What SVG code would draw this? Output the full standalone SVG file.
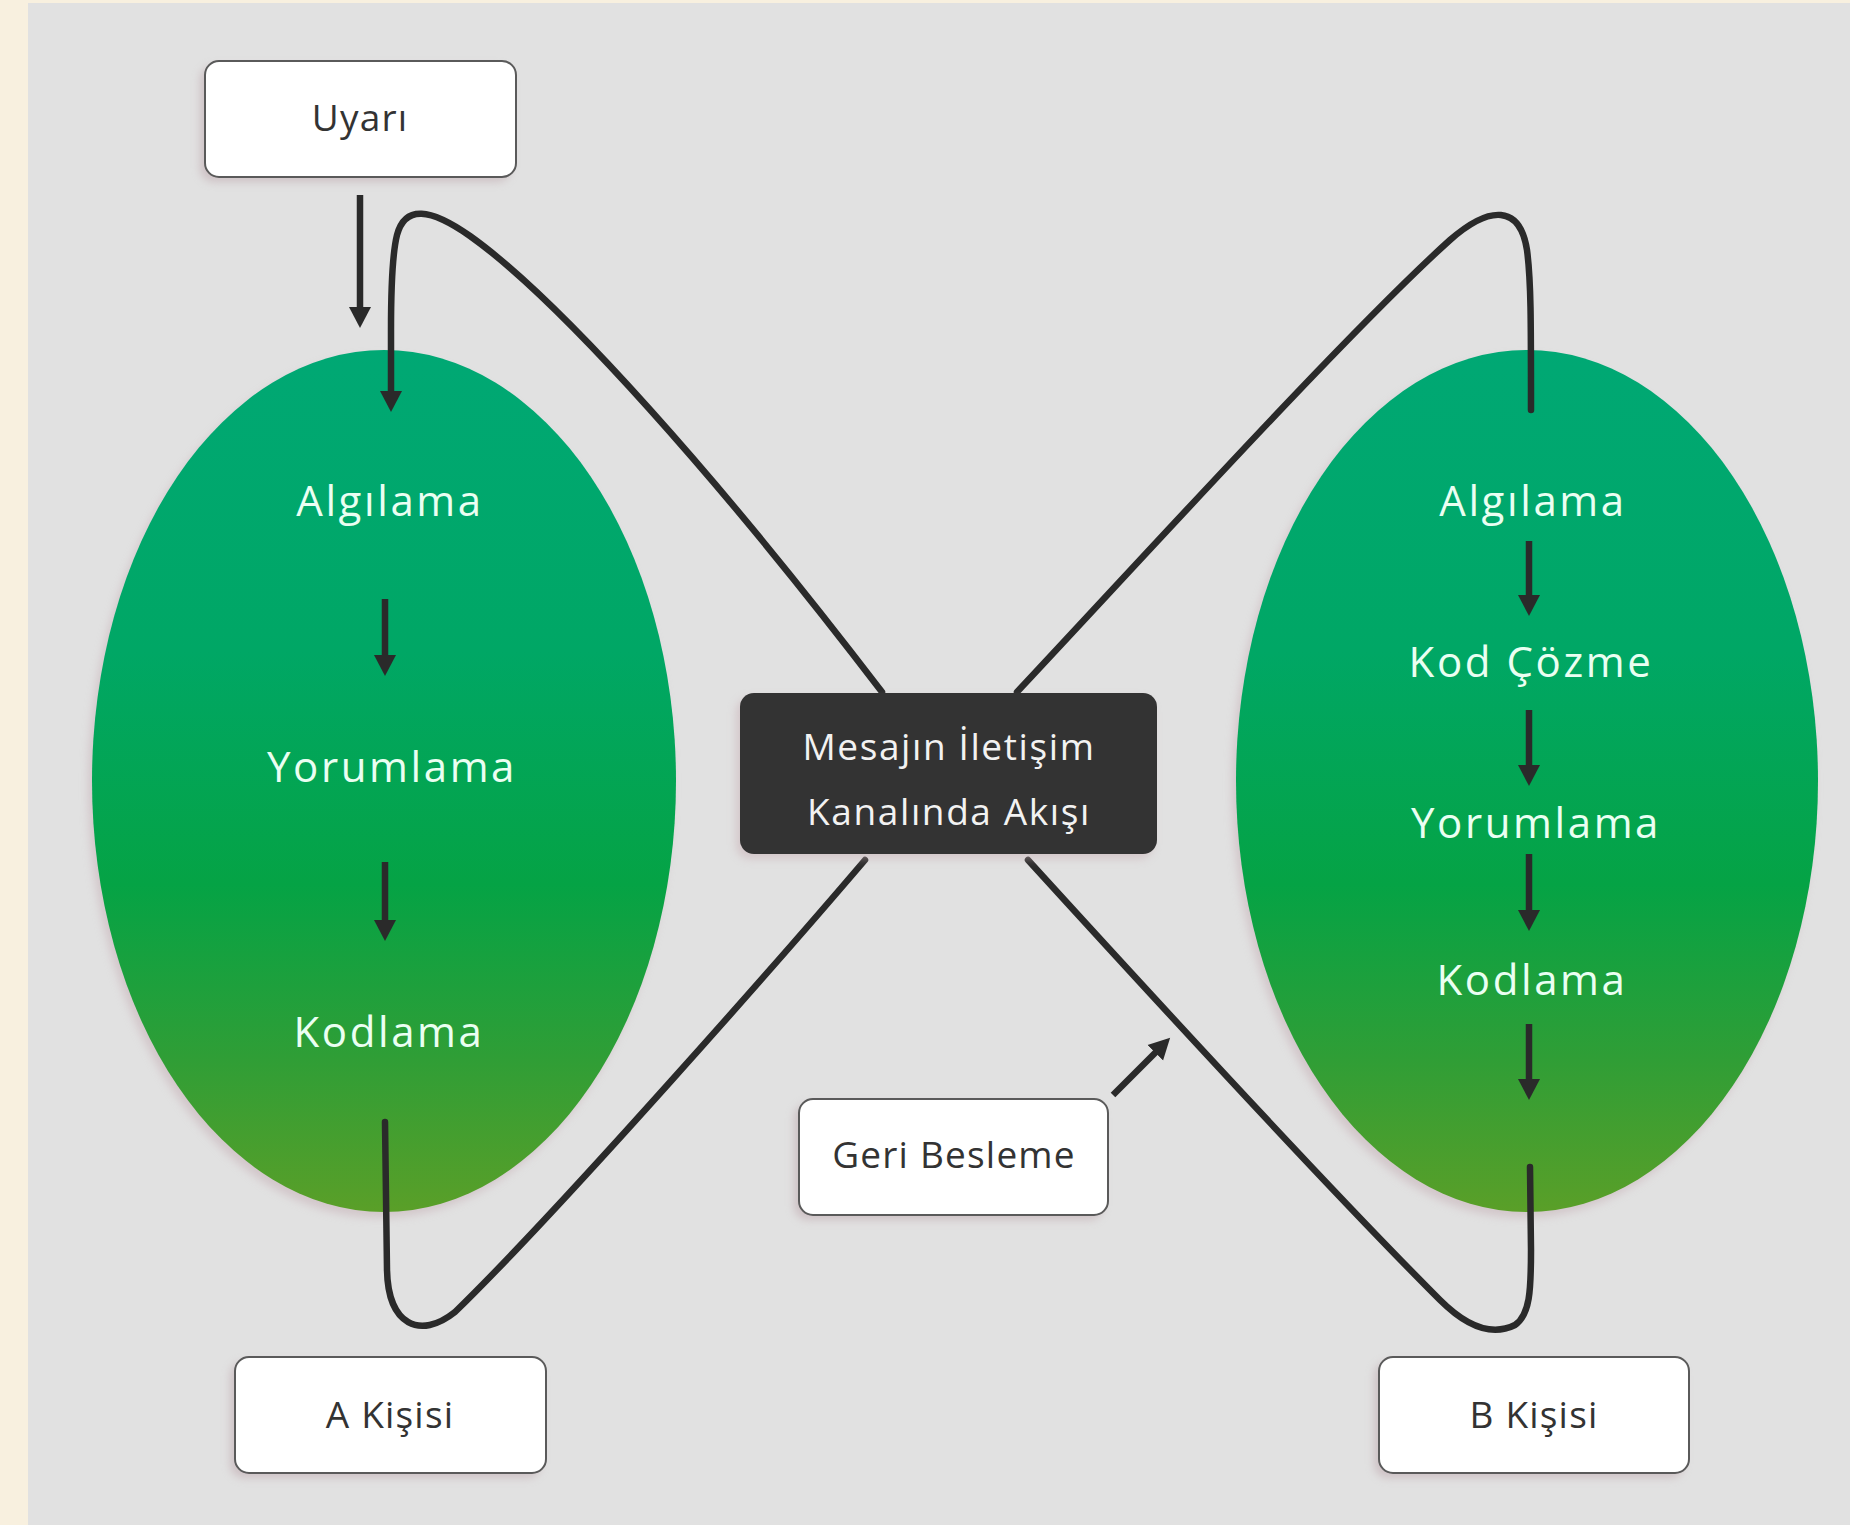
<svg xmlns="http://www.w3.org/2000/svg" width="1850" height="1525" viewBox="0 0 1850 1525">
  <defs>
    <linearGradient id="egg" x1="0" y1="0" x2="0" y2="1">
      <stop offset="0" stop-color="#00a874"/>
      <stop offset="0.35" stop-color="#00a765"/>
      <stop offset="0.62" stop-color="#05a345"/>
      <stop offset="0.82" stop-color="#2f9e36"/>
      <stop offset="1" stop-color="#5a9f28"/>
    </linearGradient>
    <filter id="soft" x="-20%" y="-20%" width="140%" height="140%">
      <feGaussianBlur stdDeviation="4"/>
    </filter>
    <marker id="ah" viewBox="0 -12 22 24" refX="1" refY="0" markerWidth="22" markerHeight="24" markerUnits="userSpaceOnUse" orient="auto">
      <path d="M0,-11 L21,0 L0,11 z" fill="#2a2a2a"/>
    </marker>
  </defs>
  <style>
    .box { fill: #ffffff; stroke: #5a5a5a; stroke-width: 2; }
    .shadow { fill: #bfa9af; opacity: 0.55; }
    .lbl { font-family: "Open Sans", "Noto Sans", sans-serif; font-size: 37px; font-weight: 500; fill: #333333; text-anchor: middle; letter-spacing: 1.2px; }
    .in { font-family: "Open Sans", "Noto Sans", sans-serif; font-size: 42px; font-weight: 500; fill: #eafff2; text-anchor: middle; letter-spacing: 2.6px; }
    .dark { font-family: "Open Sans", "Noto Sans", sans-serif; font-size: 37px; font-weight: 500; fill: #f2f2f2; text-anchor: middle; letter-spacing: 1.6px; }
    .loop { fill: none; stroke: #2a2a2a; stroke-width: 6.5; stroke-linecap: round; stroke-linejoin: round; }
    .arr { fill: none; stroke: #2a2a2a; stroke-width: 6.5; marker-end: url(#ah); }
  </style>

  <rect x="0" y="0" width="1850" height="1525" fill="#f8f0df"/>
  <rect x="28" y="3" width="1822" height="1522" fill="#e1e1e1"/>

  <g id="ellipse-a">
    <ellipse cx="380" cy="787" rx="292" ry="431" fill="#c9b6bb" opacity="0.6" filter="url(#soft)"/>
    <ellipse cx="384" cy="781" rx="292" ry="431" fill="url(#egg)"/>
    <text class="in" x="390" y="516">Algılama</text>
    <text class="in" x="392" y="782">Yorumlama</text>
    <text class="in" x="389" y="1047">Kodlama</text>
  </g>

  <g id="ellipse-b">
    <ellipse cx="1523" cy="787" rx="291" ry="431" fill="#c9b6bb" opacity="0.6" filter="url(#soft)"/>
    <ellipse cx="1527" cy="781" rx="291" ry="431" fill="url(#egg)"/>
    <text class="in" x="1533" y="516">Algılama</text>
    <text class="in" x="1531" y="677">Kod Çözme</text>
    <text class="in" x="1536" y="838">Yorumlama</text>
    <text class="in" x="1532" y="995">Kodlama</text>
  </g>

  <g id="connectors">
    <path class="loop" d="M882 692 C720 480, 560 300, 470 236 C430 208, 405 205, 397 235 C392 255, 391 290, 391 330 L391 392" marker-end="url(#ah)"/>
    <path class="loop" d="M1017 692 C1150 550, 1350 330, 1450 240 C1490 205, 1520 205, 1527 250 C1531 280, 1531 320, 1531 410"/>
    <path class="loop" d="M865 860 C790 948, 560 1210, 455 1312 C420 1340, 388 1325, 387 1270 L385 1122"/>
    <path class="loop" d="M1028 860 C1110 950, 1320 1180, 1440 1300 C1470 1330, 1495 1335, 1515 1325 C1530 1315, 1531 1290, 1531 1250 L1530 1167"/>
    <line class="arr" x1="360" y1="195" x2="360" y2="308"/>
    <line class="arr" x1="385" y1="599" x2="385" y2="656"/>
    <line class="arr" x1="385" y1="862" x2="385" y2="921"/>
    <line class="arr" x1="1529" y1="541" x2="1529" y2="596"/>
    <line class="arr" x1="1529" y1="710" x2="1529" y2="766"/>
    <line class="arr" x1="1529" y1="854" x2="1529" y2="911"/>
    <line class="arr" x1="1529" y1="1024" x2="1529" y2="1080"/>
    <line class="arr" x1="1113" y1="1095" x2="1156" y2="1052"/>
  </g>

  <g id="uyari">
    <rect class="shadow" x="200" y="66" width="311" height="116" rx="14" filter="url(#soft)"/>
    <rect class="box" x="205" y="61" width="311" height="116" rx="14"/>
    <text class="lbl" x="360" y="131">Uyarı</text>
  </g>

  <g id="mesaj">
    <rect x="736" y="698" width="417" height="161" rx="14" fill="#c7aeb4" opacity="0.5" filter="url(#soft)"/>
    <rect x="740" y="693" width="417" height="161" rx="14" fill="#333333"/>
    <text class="dark" x="949" y="760">Mesajın İletişim</text>
    <text class="dark" x="949" y="825">Kanalında Akışı</text>
  </g>

  <g id="geri-besleme">
    <rect class="shadow" x="794" y="1104" width="309" height="116" rx="14" filter="url(#soft)"/>
    <rect class="box" x="799" y="1099" width="309" height="116" rx="14"/>
    <text class="lbl" x="954" y="1168">Geri Besleme</text>
  </g>

  <g id="a-kisisi">
    <rect class="shadow" x="230" y="1362" width="311" height="116" rx="14" filter="url(#soft)"/>
    <rect class="box" x="235" y="1357" width="311" height="116" rx="14"/>
    <text class="lbl" x="390" y="1428">A Kişisi</text>
  </g>

  <g id="b-kisisi">
    <rect class="shadow" x="1374" y="1362" width="310" height="116" rx="14" filter="url(#soft)"/>
    <rect class="box" x="1379" y="1357" width="310" height="116" rx="14"/>
    <text class="lbl" x="1534" y="1428">B Kişisi</text>
  </g>
</svg>
